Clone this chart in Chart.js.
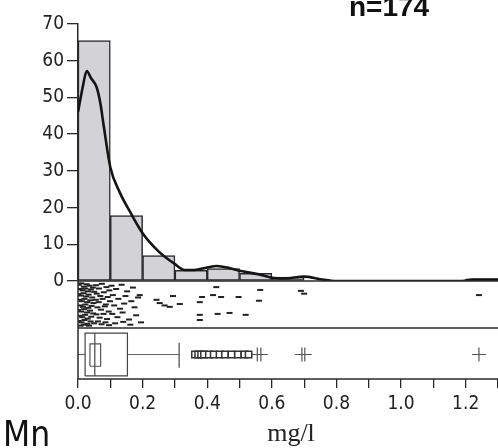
<!DOCTYPE html>
<html>
<head>
<meta charset="utf-8">
<script src="https://cdn.jsdelivr.net/npm/chart.js@4.4.0/dist/chart.umd.min.js"></script>
<style>
  html, body { margin: 0; padding: 0; background: #fff; }
  #wrap { position: relative; width: 498px; height: 448px; }
</style>
</head>
<body>
<div id="wrap"><canvas id="myChart"></canvas></div>
<script>
// histogram, percent of samples per 0.1 mg/l bin
const binCenters = [0.05, 0.15, 0.25, 0.35, 0.45, 0.55, 0.65, 1.25];
const binPercent = [65.5, 17.8, 6.9, 2.9, 3.4, 2.1, 1.1, 0.6];

// density curve
const densityX = [0, 0.015, 0.027, 0.04, 0.058, 0.07, 0.08, 0.1, 0.13, 0.16, 0.2, 0.25, 0.3, 0.33, 0.36, 0.4, 0.43, 0.47, 0.5, 0.56, 0.6, 0.64, 0.7, 0.75, 0.8, 1.19, 1.22, 1.3];
const densityY = [46, 53, 57.2, 55.3, 52.7, 48, 42, 31, 24, 19, 13, 8, 4.6, 3, 3, 3.7, 4.1, 3.5, 2.8, 1.8, 0.9, 0.7, 1.2, 0.5, 0, 0, 0.4, 0.4];

// jittered one-dimensional scatter (x = mg/l, y = jitter 0..1)
const rugPoints = [
  [0.002, 0.92], [0.01, 0.95], [0.018, 0.88], [0.027, 0.93], [0.036, 0.9], [0.046, 0.86],
  [0.005, 0.83], [0.014, 0.8], [0.022, 0.84], [0.031, 0.78], [0.04, 0.82], [0.05, 0.77],
  [0.001, 0.72], [0.009, 0.69], [0.017, 0.74], [0.025, 0.67], [0.033, 0.71], [0.044, 0.65],
  [0.004, 0.6], [0.012, 0.57], [0.02, 0.62], [0.029, 0.55], [0.038, 0.59], [0.048, 0.53],
  [0.007, 0.48], [0.015, 0.45], [0.023, 0.5], [0.032, 0.43], [0.042, 0.47],
  [0.0, 0.38], [0.01, 0.35], [0.019, 0.4], [0.028, 0.33], [0.037, 0.37], [0.047, 0.31],
  [0.005, 0.26], [0.013, 0.23], [0.022, 0.28], [0.03, 0.2], [0.041, 0.24],
  [0.002, 0.15], [0.011, 0.12], [0.02, 0.17], [0.029, 0.09], [0.039, 0.14], [0.05, 0.1],
  [0.008, 0.05], [0.018, 0.07], [0.034, 0.05],
  [0.056, 0.91], [0.065, 0.84], [0.074, 0.94], [0.088, 0.87], [0.097, 0.8],
  [0.058, 0.73], [0.069, 0.68], [0.08, 0.76], [0.092, 0.66],
  [0.055, 0.6], [0.064, 0.55], [0.076, 0.62], [0.086, 0.5], [0.099, 0.57],
  [0.06, 0.44], [0.071, 0.39], [0.083, 0.46], [0.095, 0.35],
  [0.057, 0.29], [0.067, 0.22], [0.079, 0.3], [0.09, 0.19],
  [0.062, 0.14], [0.073, 0.08], [0.085, 0.12], [0.096, 0.06],
  [0.104, 0.9], [0.118, 0.83], [0.135, 0.92], [0.152, 0.78], [0.17, 0.86],
  [0.108, 0.7], [0.125, 0.62], [0.147, 0.68], [0.165, 0.57], [0.186, 0.65],
  [0.112, 0.48], [0.13, 0.41], [0.143, 0.52], [0.175, 0.44],
  [0.106, 0.3], [0.122, 0.23], [0.138, 0.33], [0.158, 0.18], [0.18, 0.27],
  [0.115, 0.1], [0.14, 0.13], [0.162, 0.07], [0.195, 0.12],
  [0.191, 0.70], [0.243, 0.60], [0.253, 0.53], [0.268, 0.48], [0.284, 0.45], [0.294, 0.68], [0.315, 0.51],
  [0.377, 0.55], [0.384, 0.66], [0.418, 0.70], [0.428, 0.87], [0.443, 0.66], [0.497, 0.66],
  [0.377, 0.28], [0.377, 0.17], [0.432, 0.30], [0.469, 0.32], [0.519, 0.28],
  [0.564, 0.81], [0.56, 0.58], [0.69, 0.79], [0.70, 0.73], [1.241, 0.70]
];

// boxplot: min, q1, median, q3, upper whisker
const boxStats = [0, 0.022, 0.052, 0.153, 0.313];
const notch = [0.037, 0.07];
const outlierSquares = [0.362, 0.372, 0.381, 0.39, 0.405, 0.42, 0.438, 0.455, 0.475, 0.495, 0.515, 0.528];
const outlierCrosses = [0.555, 0.566, 0.693, 0.702, 1.241];

const xTickLabels = ["0.0", "0.2", "0.4", "0.6", "0.8", "1.0", "1.2"];

const NARROW = "'Liberation Sans Narrow', 'Arial Narrow', 'DejaVu Sans Condensed', sans-serif";
const INK = "#2a2a2a";

// vertical layout of the box panel (0 = bottom, 1 = top)
const BY = { lo: 0.06, hi: 0.9, inLo: 0.25, inHi: 0.69, mid: 0.48, capLo: 0.22, capHi: 0.71 };

function rect(x0, x1, y0, y1) {
  return [{x: x0, y: y0}, {x: x1, y: y0}, {x: x1, y: y1}, {x: x0, y: y1}, {x: x0, y: y0}];
}
function boxLine(data, color) {
  return {
    type: "line", data: data, yAxisID: "yB", borderColor: color, borderWidth: 1.2,
    pointRadius: 0, fill: false, tension: 0, order: 0
  };
}

const [bMin, bQ1, bMed, bQ3, bHi] = boxStats;

const panelBorders = {
  id: "panelBorders",
  afterDatasetsDraw(chart) {
    const ctx = chart.ctx;
    const area = chart.chartArea;
    const yR = chart.scales.yR, yB = chart.scales.yB;
    ctx.save();
    ctx.strokeStyle = INK;
    ctx.lineWidth = 1.5;
    ctx.beginPath();
    [yR.top, yB.top, yB.bottom].forEach(function (y) {
      ctx.moveTo(area.left, y);
      ctx.lineTo(area.right, y);
    });
    ctx.moveTo(area.left, yR.top);
    ctx.lineTo(area.left, yB.bottom);
    ctx.stroke();
    ctx.restore();
  },
  afterDraw(chart) {
    const ctx = chart.ctx;
    ctx.save();
    ctx.fillStyle = "#111";
    ctx.textBaseline = "alphabetic";
    ctx.font = "bold 28px 'Liberation Sans', Arial, sans-serif";
    ctx.textAlign = "left";
    ctx.fillText("n=174", 349, 16);
    ctx.font = "35px " + NARROW;
    ctx.fillText("Mn", 3, 446);
    ctx.font = "26px 'Liberation Serif', 'Times New Roman', serif";
    ctx.textAlign = "center";
    ctx.fillStyle = "#222";
    ctx.fillText("mg/l", 291, 441);
    ctx.restore();
  }
};

new Chart("myChart", {
  type: "bar",
  data: {
    datasets: [
      {
        type: "line",
        data: densityX.map((x, i) => ({x: x, y: densityY[i]})),
        yAxisID: "yH",
        borderColor: "#141414",
        borderWidth: 2.6,
        pointRadius: 0,
        fill: false,
        cubicInterpolationMode: "monotone",
        order: 0
      },
      {
        type: "bar",
        data: binCenters.map((x, i) => ({x: x, y: binPercent[i]})),
        yAxisID: "yH",
        backgroundColor: "#d3d3d7",
        borderColor: INK,
        borderWidth: 1.5,
        borderSkipped: false,
        barPercentage: 1,
        categoryPercentage: 1,
        order: 2
      },
      {
        type: "scatter",
        data: rugPoints.map(p => ({x: p[0], y: p[1]})),
        yAxisID: "yR",
        pointStyle: "line",
        pointRadius: 3,
        borderWidth: 2,
        borderColor: "#222",
        order: 0
      },
      boxLine(rect(bQ1, bQ3, BY.lo, BY.hi), "#444"),
      boxLine(rect(notch[0], notch[1], BY.inLo, BY.inHi), "#555"),
      boxLine([{x: bMed, y: BY.lo}, {x: bMed, y: BY.hi}], "#444"),
      boxLine([{x: bMin, y: BY.mid}, {x: bQ1, y: BY.mid}], "#666"),
      boxLine([{x: bQ3, y: BY.mid}, {x: bHi, y: BY.mid}], "#666"),
      boxLine([{x: bHi, y: BY.capLo}, {x: bHi, y: BY.capHi}], "#444"),
      {
        type: "scatter",
        data: outlierSquares.map(x => ({x: x, y: BY.mid})),
        yAxisID: "yB",
        pointStyle: "rect",
        pointRadius: 4.5,
        borderWidth: 1.5,
        borderColor: "#333",
        backgroundColor: "#fff",
        order: 0
      },
      {
        type: "scatter",
        data: outlierCrosses.map(x => ({x: x, y: BY.mid})),
        yAxisID: "yB",
        pointStyle: "cross",
        pointRadius: 7,
        borderWidth: 1.2,
        borderColor: "#555",
        order: 0
      }
    ]
  },
  options: {
    responsive: true,
    maintainAspectRatio: false,
    animation: false,
    layout: { autoPadding: false, padding: { top: 24, left: 0, right: 0, bottom: 0 } },
    plugins: {
      legend: { display: false },
      tooltip: { enabled: false },
      title: { display: false }
    },
    scales: {
      x: {
        type: "linear",
        min: 0,
        max: 1.3,
        offset: false,
        grid: { display: true, drawOnChartArea: false, drawTicks: true, tickLength: 9, color: INK, lineWidth: 1.3, offset: false },
        border: { display: false },
        ticks: {
          stepSize: 0.1,
          autoSkip: false,
          maxRotation: 0,
          padding: 5,
          color: "#222",
          font: { family: NARROW, size: 19 },
          callback: (v, i) => (i % 2 === 0 ? xTickLabels[i / 2] : "")
        },
        afterFit: s => { s.height = 69; s.paddingRight = 0; s.paddingLeft = 0; }
      },
      yB: {
        type: "linear", position: "left", stack: "v", stackWeight: 51,
        min: 0, max: 1,
        grid: { display: false },
        ticks: { display: false },
        border: { display: false },
        afterFit: s => { s.width = 78; }
      },
      yR: {
        type: "linear", position: "left", stack: "v", stackWeight: 47,
        min: 0, max: 1,
        grid: { display: false },
        ticks: { display: false },
        border: { display: false },
        afterFit: s => { s.width = 78; }
      },
      yH: {
        type: "linear", position: "left", stack: "v", stackWeight: 257,
        min: 0, max: 70,
        grid: { drawOnChartArea: false, drawTicks: true, tickLength: 11, color: INK, lineWidth: 1.3 },
        border: { display: true, color: INK, width: 1.5 },
        ticks: { stepSize: 10, autoSkip: false, padding: 3, color: "#222", font: { family: NARROW, size: 19 } },
        afterFit: s => { s.width = 78; }
      }
    }
  },
  plugins: [panelBorders]
});
</script>
</body>
</html>
